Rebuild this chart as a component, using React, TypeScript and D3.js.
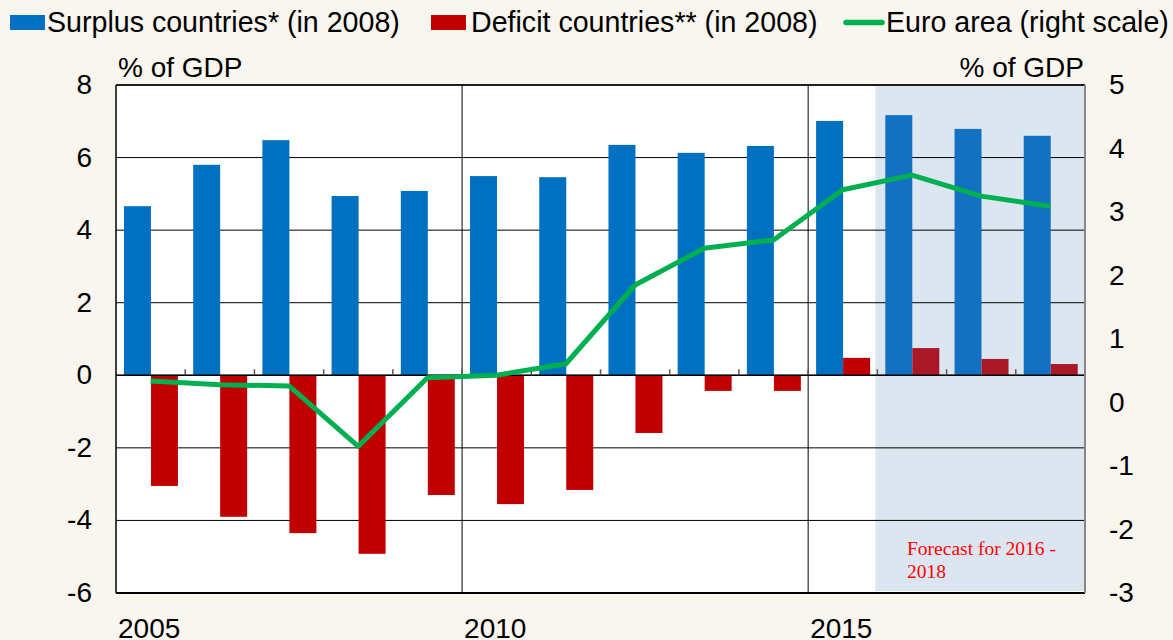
import React, { useRef, useEffect } from "react";
import { select, scaleBand, scaleLinear, line } from "d3";

const years = [2005, 2006, 2007, 2008, 2009, 2010, 2011, 2012, 2013, 2014, 2015, 2016, 2017, 2018];
const surplus = [4.66, 5.8, 6.48, 4.94, 5.08, 5.49, 5.46, 6.35, 6.13, 6.32, 7.01, 7.17, 6.79, 6.6];
const deficit = [-3.05, -3.9, -4.35, -4.92, -3.3, -3.55, -3.16, -1.59, -0.43, -0.43, 0.48, 0.75, 0.45, 0.31];
const euroArea = [0.34, 0.28, 0.26, -0.69, 0.39, 0.43, 0.61, 1.85, 2.43, 2.56, 3.35, 3.58, 3.25, 3.09];
const leftTicks = [8, 6, 4, 2, 0, -2, -4, -6];
const rightTicks = [5, 4, 3, 2, 1, 0, -1, -2, -3];
const yearLabels = [2005, 2010, 2015];
const forecastYears = [2016, 2017, 2018];

function App() {
    const svgRef = useRef()

    useEffect(() => {
        const svg = select(svgRef.current)
        svg.selectAll("*").remove()

        const W = 1173, H = 640
        const left = 116, right = 1085, top = 85, bottom = 593
        const font = "'Liberation Sans', Arial, sans-serif"
        const fs = 28

        svg.append("rect").attr("width", W).attr("height", H).attr("fill", "#f9f5ef")

        const xScale = scaleBand().domain(years).range([left, right])
        const yLeft = scaleLinear().domain([-6, 8]).range([bottom, top])
        const yRight = scaleLinear().domain([-3, 5]).range([bottom, top])
        const bw = xScale.bandwidth()
        const barW = bw * 0.39
        const offset = bw * 0.115

        // plot background + forecast shade
        svg.append("rect").attr("x", left).attr("y", top).attr("width", right - left).attr("height", bottom - top).attr("fill", "white")
        const fx = xScale(forecastYears[0]) - 2
        svg.append("rect").attr("x", fx).attr("y", top).attr("width", right - fx).attr("height", bottom - top - 2).attr("fill", "#dce6f1")

        // grid
        svg.selectAll(".hgrid").data(leftTicks).join("line")
            .attr("x1", left).attr("x2", right)
            .attr("y1", d => yLeft(d)).attr("y2", d => yLeft(d))
            .attr("stroke", "#000").attr("stroke-width", 1)
        svg.selectAll(".vgrid").data(yearLabels.slice(1)).join("line")
            .attr("x1", d => xScale(d)).attr("x2", d => xScale(d))
            .attr("y1", top).attr("y2", bottom)
            .attr("stroke", "#000").attr("stroke-width", 1)

        // bars
        svg.selectAll(".surplus").data(surplus).join("rect")
            .attr("x", (d, i) => xScale(years[i]) + offset)
            .attr("y", d => yLeft(Math.max(0, d)))
            .attr("width", barW)
            .attr("height", d => Math.abs(yLeft(d) - yLeft(0)))
            .attr("fill", (d, i) => forecastYears.includes(years[i]) ? "#1271c1" : "#0070c0")
        svg.selectAll(".deficit").data(deficit).join("rect")
            .attr("x", (d, i) => xScale(years[i]) + offset + barW)
            .attr("y", d => yLeft(Math.max(0, d)))
            .attr("width", barW)
            .attr("height", d => Math.abs(yLeft(d) - yLeft(0)))
            .attr("fill", (d, i) => forecastYears.includes(years[i]) ? "#a81826" : "#c00000")

        // zero line on top of bars, with small ticks at band edges
        svg.append("line").attr("x1", left).attr("x2", right).attr("y1", yLeft(0)).attr("y2", yLeft(0))
            .attr("stroke", "#000").attr("stroke-width", 1.5)
        svg.selectAll(".tick").data(years.slice(1)).join("line")
            .attr("x1", d => xScale(d)).attr("x2", d => xScale(d))
            .attr("y1", yLeft(0)).attr("y2", yLeft(0) - 6)
            .attr("stroke", "#555").attr("stroke-width", 1.5)

        // euro area line
        const lineGen = line()
            .x((d, i) => xScale(years[i]) + bw / 2)
            .y(d => yRight(d))
        svg.append("path").attr("d", lineGen(euroArea))
            .attr("fill", "none").attr("stroke", "#00b050").attr("stroke-width", 5)
            .attr("stroke-linejoin", "round")

        // frame
        svg.append("line").attr("x1", left).attr("x2", right).attr("y1", top).attr("y2", top).attr("stroke", "#000").attr("stroke-width", 1.5)
        svg.append("line").attr("x1", left).attr("x2", right).attr("y1", bottom).attr("y2", bottom).attr("stroke", "#000").attr("stroke-width", 2)
        svg.append("line").attr("x1", left).attr("x2", left).attr("y1", top).attr("y2", bottom).attr("stroke", "#000").attr("stroke-width", 1.5)
        svg.append("line").attr("x1", right).attr("x2", right).attr("y1", top).attr("y2", bottom).attr("stroke", "#888").attr("stroke-width", 2)

        // axis labels
        svg.selectAll(".ltick").data(leftTicks).join("text")
            .attr("x", 92).attr("y", d => yLeft(d) + 9)
            .attr("text-anchor", "end").attr("font-family", font).attr("font-size", fs)
            .text(d => d)
        svg.selectAll(".rtick").data(rightTicks).join("text")
            .attr("x", 1109).attr("y", d => yRight(d) + 9)
            .attr("font-family", font).attr("font-size", fs)
            .text(d => d)
        svg.selectAll(".xtick").data(yearLabels).join("text")
            .attr("x", d => xScale(d) + 2).attr("y", 638)
            .attr("font-family", font).attr("font-size", fs)
            .text(d => d)
        svg.append("text").attr("x", 118).attr("y", 77).attr("font-family", font).attr("font-size", fs).text("% of GDP")
        svg.append("text").attr("x", 1084).attr("y", 77).attr("text-anchor", "end").attr("font-family", font).attr("font-size", fs).text("% of GDP")

        // forecast note
        const note = svg.append("text").attr("font-family", "'Liberation Serif', 'Times New Roman', serif")
            .attr("font-size", 19.5).attr("fill", "#ff0000")
        note.append("tspan").attr("x", 907).attr("y", 555).text("Forecast for 2016 -")
        note.append("tspan").attr("x", 907).attr("y", 578).text("2018")

        // legend
        const lg = svg.append("g").attr("font-family", font).attr("font-size", 28.6)
        lg.append("rect").attr("x", 10).attr("y", 15).attr("width", 35).attr("height", 15).attr("fill", "#0070c0")
        lg.append("text").attr("x", 47).attr("y", 32).text("Surplus countries* (in 2008)")
        lg.append("rect").attr("x", 431).attr("y", 15).attr("width", 35).attr("height", 15).attr("fill", "#c00000")
        lg.append("text").attr("x", 471).attr("y", 32).text("Deficit countries** (in 2008)")
        lg.append("line").attr("x1", 846).attr("x2", 882).attr("y1", 22.5).attr("y2", 22.5)
            .attr("stroke", "#00b050").attr("stroke-width", 5.5).attr("stroke-linecap", "round")
        lg.append("text").attr("x", 886).attr("y", 32).text("Euro area (right scale)")
    }, []);

    return (
        <div style={{ position: "absolute", left: 0, top: 0 }}>
            <svg ref={svgRef} width={1173} height={640}></svg>
        </div>
    )
}

export default App
